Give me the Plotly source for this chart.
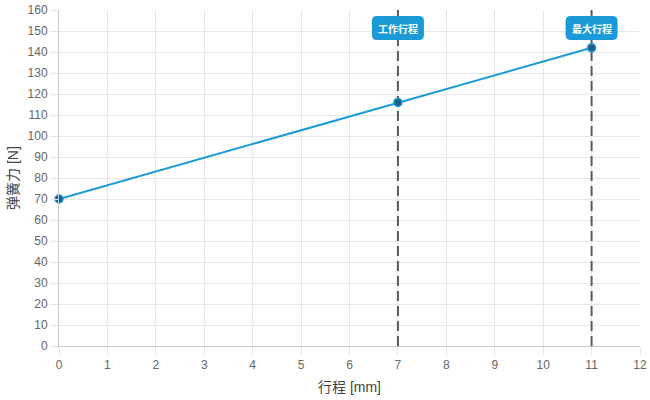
import plotly.graph_objects as go

# data
stroke_mm = [0, 7, 11]
force_n = [70, 116, 142]
marker_x = [7, 11]
marker_labels = ["工作行程", "最大行程"]
x_title = "行程 [mm]"
y_title = "弹簧力 [N]"

LINE = "#1a9ad6"
FONT = "Liberation Sans, Arial, Noto Sans CJK SC, sans-serif"

fig = go.Figure()
fig.add_trace(go.Scatter(
    x=stroke_mm, y=force_n, mode="lines+markers",
    line=dict(color=LINE, width=2),
    marker=dict(size=8, color="#1d5f8a", line=dict(color=LINE, width=1.5)),
    hoverinfo="skip", showlegend=False, cliponaxis=False,
))

y_top = 160
hw, r = 26, 5
top, bot = -6, -30
path = (f"M {-hw + r} {top} L {hw - r} {top} Q {hw} {top} {hw} {top - r} "
        f"L {hw} {bot + r} Q {hw} {bot} {hw - r} {bot} L {-hw + r} {bot} "
        f"Q {-hw} {bot} {-hw} {bot + r} L {-hw} {top - r} Q {-hw} {top} {-hw + r} {top} Z")

for xv, lab in zip(marker_x, marker_labels):
    fig.add_shape(type="line", x0=xv, x1=xv, y0=0, y1=y_top, xref="x", yref="y",
                  line=dict(color="#5a5a5a", width=2, dash="10px,5px"), layer="between")
    fig.add_shape(type="path", path=path, xref="x", yref="y",
                  xsizemode="pixel", ysizemode="pixel", xanchor=xv, yanchor=y_top,
                  fillcolor=LINE, line=dict(width=0), layer="above")
    fig.add_annotation(x=xv, y=y_top, xref="x", yref="y", text=f"<b>{lab}</b>",
                       showarrow=False, yshift=-18,
                       font=dict(color="white", size=10, family="Noto Sans CJK SC"))

# axis titles
fig.add_annotation(x=0.5, y=0, xref="paper", yref="paper", text=x_title, showarrow=False,
                   yshift=-41, yanchor="middle",
                   font=dict(size=14, color="#444444", family=FONT))
fig.add_annotation(x=0, y=0.5, xref="paper", yref="paper", text=y_title, showarrow=False,
                   xshift=-46, xanchor="center", textangle=-90,
                   font=dict(size=14, color="#444444", family=FONT))

axis_common = dict(
    showgrid=True, gridcolor="#e6e6e6", gridwidth=1,
    showline=True, linecolor="#c8c8c8", linewidth=1,
    ticks="outside", ticklen=8, tickcolor="#e6e6e6",
    tickfont=dict(color="#666666", size=12, family=FONT),
    zeroline=False, fixedrange=True, automargin=False,
)
fig.update_xaxes(range=[0, 12], dtick=1, tick0=0, **axis_common)
fig.update_yaxes(range=[0, 160], dtick=10, tick0=0, **axis_common)

fig.update_layout(
    width=650, height=400,
    margin=dict(l=59, r=10, t=10, b=54, autoexpand=False),
    plot_bgcolor="white", paper_bgcolor="white",
    font=dict(family=FONT),
)
fig.write_html("out.html", config={"displayModeBar": False},
               post_script="document.body.style.margin='0';document.body.style.overflow='hidden';")
